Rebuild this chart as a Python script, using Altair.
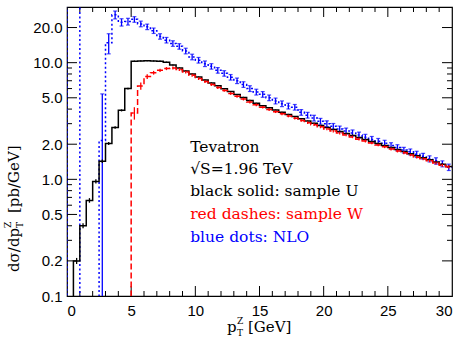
import altair as alt
import pandas as pd

OFF = 0.001   # empty / negative bin: below the axis
BIG = 1000.0  # bin far above the axis

bin_lo = [i * 0.5 for i in range(60)]

black = [OFF, 0.20, 0.40, 0.66, 0.96, 1.43, 2.03, 2.78, 3.9, 6.0,
         10.3, 10.35, 10.4, 10.35, 10.3, 10.1, 9.55, 9.0, 8.5, 8.0,
         7.53, 7.11, 6.71, 6.34, 5.98, 5.65, 5.33, 5.04, 4.75, 4.49,
         4.28, 4.10, 3.93, 3.76, 3.60, 3.45, 3.30, 3.16, 3.03, 2.90,
         2.78, 2.67, 2.57, 2.47, 2.38, 2.28, 2.19, 2.11, 2.03, 1.95,
         1.87, 1.80, 1.73, 1.66, 1.59, 1.53, 1.47, 1.41, 1.35, 1.29]
black_err = [0, 0.012, 0.02, 0.03, 0.04, 0.05, 0.06, 0.07, 0.08, 0.1,
             0.12, 0.12, 0.12, 0.12, 0.12, 0.11, 0.1, 0.1, 0.09, 0.09,
             0.08, 0.08, 0.07, 0.07, 0.07, 0.06, 0.06, 0.06, 0.05, 0.05,
             0.05, 0.05, 0.04, 0.04, 0.04, 0.04, 0.04, 0.03, 0.03, 0.03,
             0.03, 0.03, 0.03, 0.03, 0.03, 0.03, 0.02, 0.02, 0.02, 0.02,
             0.02, 0.02, 0.02, 0.02, 0.02, 0.02, 0.02, 0.02, 0.02, 0.02]

red = [OFF, OFF, OFF, OFF, OFF, OFF, OFF, OFF, OFF, OFF,
       3.7, 6.3, 7.6, 8.2, 8.6, 8.9, 9.0, 8.75, 8.3, 7.8,
       7.3, 6.88, 6.5, 6.12, 5.78, 5.45, 5.15, 4.87, 4.6, 4.35,
       4.15, 3.97, 3.8, 3.64, 3.49, 3.34, 3.2, 3.06, 2.94, 2.82,
       2.7, 2.59, 2.49, 2.4, 2.31, 2.21, 2.13, 2.05, 1.97, 1.9,
       1.82, 1.75, 1.69, 1.62, 1.55, 1.5, 1.44, 1.38, 1.32, 1.28]
red_err = [0, 0, 0, 0, 0, 0, 0, 0, 0, 0,
           0.45, 0.45, 0.35, 0.3, 0.28, 0.27, 0.26, 0.25, 0.24, 0.22,
           0.2, 0.19, 0.18, 0.17, 0.16, 0.15, 0.14, 0.13, 0.13, 0.12,
           0.11, 0.11, 0.1, 0.1, 0.09, 0.09, 0.09, 0.08, 0.08, 0.08,
           0.07, 0.07, 0.07, 0.06, 0.06, 0.06, 0.06, 0.05, 0.05, 0.05,
           0.05, 0.05, 0.05, 0.04, 0.04, 0.04, 0.04, 0.04, 0.04, 0.04]

blue = [BIG, BIG, OFF, OFF, OFF, 2.15, 14.8, 25.7, 22.2, 22.5,
        23.5, 21.5, 20.3, 18.8, 16.8, 15.6, 14.6, 13.8, 12.6, 11.2,
        10.5, 9.8, 9.3, 8.6, 8.1, 7.5, 7.0, 6.5, 6.0, 5.6,
        5.35, 5.0, 4.7, 4.45, 4.25, 4.15, 3.75, 3.55, 3.35, 3.15,
        3.0, 2.85, 2.7, 2.6, 2.5, 2.4, 2.3, 2.2, 2.12, 2.04,
        1.95, 1.87, 1.78, 1.72, 1.64, 1.58, 1.5, 1.44, 1.36, 1.27]
blue_err = [0, 0, 0, 0, 0, 3.25, 2.9, 2.0, 1.6, 1.5,
            1.3, 1.2, 1.1, 1.0, 0.9, 0.85, 0.8, 0.75, 0.7, 0.62,
            0.58, 0.54, 0.5, 0.47, 0.44, 0.41, 0.38, 0.36, 0.34, 0.32,
            0.3, 0.28, 0.27, 0.25, 0.24, 0.23, 0.21, 0.2, 0.19, 0.18,
            0.17, 0.16, 0.16, 0.15, 0.15, 0.14, 0.13, 0.13, 0.12, 0.12,
            0.11, 0.11, 0.1, 0.1, 0.1, 0.09, 0.09, 0.09, 0.08, 0.08]

x_labels = [0, 5, 10, 15, 20, 25, 30]
x_major = [5, 10, 15, 20, 25]
x_minor = [1, 2, 3, 4, 6, 7, 8, 9, 11, 12, 13, 14, 16, 17, 18, 19,
           21, 22, 23, 24, 26, 27, 28, 29]
y_labels = [0.1, 0.2, 0.5, 1, 2, 5, 10, 20]
y_major = [0.2, 0.5, 1, 2, 5, 10, 20]
y_minor = [0.3, 0.4, 0.6, 0.7, 0.8, 0.9, 3, 4, 6, 7, 8, 9]

notes = ["Tevatron", "\u221aS=1.96 TeV", "black solid: sample U",
         "red dashes: sample W", "blue dots: NLO"]
note_colors = ["black", "black", "black", "#ff0000", "#0000ff"]
note_y = [1.73, 1.12, 0.72, 0.46, 0.29]
note_x = 9.6

W, H = 385, 289
XS = alt.Scale(domain=[0, 30], nice=False, zero=False)
YS = alt.Scale(type="log", domain=[0.1, 30], nice=False)
AX = alt.Axis(values=x_labels, format="d", ticks=False, domain=False, grid=False,
              labelPadding=7, labelFontSize=15, labelFont="Liberation Sans",
              labelColor="black", title=None)
AY = alt.Axis(values=y_labels, format=".1f", ticks=False, domain=False, grid=False,
              labelPadding=5, labelFontSize=15, labelFont="Liberation Sans",
              labelColor="black", title=None)


def X(f):
    return alt.X(f, scale=XS, axis=AX, title=None)


def Y(f):
    return alt.Y(f, scale=YS, axis=AY, title=None)


def step_df(vals):
    rows = [{"x": bin_lo[0], "y": OFF, "o": 0}]
    for i, v in enumerate(vals):
        rows.append({"x": bin_lo[i], "y": v, "o": i + 1})
    rows.append({"x": 30.0, "y": vals[-1], "o": len(vals) + 1})
    return pd.DataFrame(rows)


def err_df(vals, errs):
    rows = []
    for i, (v, e) in enumerate(zip(vals, errs)):
        if e > 0:
            rows.append({"x": bin_lo[i] + 0.25, "lo": max(v - e, OFF), "hi": v + e})
    return pd.DataFrame(rows)


def step_line(vals, color, dash=None):
    kw = dict(interpolate="step-after", color=color, strokeWidth=1.5, clip=True)
    if dash:
        kw["strokeDash"] = dash
    return alt.Chart(step_df(vals)).mark_line(**kw).encode(
        x=X("x:Q"), y=Y("y:Q"), order="o:Q")


def err_bars(vals, errs, color, cap):
    d = err_df(vals, errs)
    base = alt.Chart(d)
    layers = [base.mark_rule(color=color, strokeWidth=1.3, clip=True).encode(
        x=X("x:Q"), y=Y("lo:Q"), y2="hi:Q")]
    if cap:
        for f in ["lo", "hi"]:
            layers.append(base.mark_tick(orient="horizontal", size=cap, thickness=1.2,
                                         color=color, clip=True).encode(
                x=X("x:Q"), y=Y(f + ":Q")))
    return layers


def xticks(vals, size):
    d = pd.DataFrame({"v": vals})
    bot = alt.Chart(d).mark_rule(color="black", strokeWidth=1).encode(
        x=X("v:Q"), y=alt.value(H), y2=alt.value(H - size))
    top = alt.Chart(d).mark_rule(color="black", strokeWidth=1).encode(
        x=X("v:Q"), y=alt.value(0), y2=alt.value(size))
    return [bot, top]


def yticks(vals, size):
    d = pd.DataFrame({"v": vals})
    left = alt.Chart(d).mark_rule(color="black", strokeWidth=1).encode(
        y=Y("v:Q"), x=alt.value(0), x2=alt.value(size))
    right = alt.Chart(d).mark_rule(color="black", strokeWidth=1).encode(
        y=Y("v:Q"), x=alt.value(W), x2=alt.value(W - size))
    return [left, right]


notes_df = pd.DataFrame({"t": notes, "c": note_colors, "y": note_y, "x": [note_x] * len(notes)})
notes_layer = alt.Chart(notes_df).mark_text(align="left", baseline="alphabetic",
                                            font="DejaVu Serif", fontSize=15.5).encode(
    x=X("x:Q"), y=Y("y:Q"), text="t:N", color=alt.Color("c:N", scale=None))


def label(txt, x, y, size=15, angle=0, align="left"):
    kw = dict(align=align, baseline="alphabetic", font="DejaVu Serif",
              fontSize=size, color="black")
    if angle:
        kw["angle"] = angle
    return alt.Chart(pd.DataFrame({"t": [txt]})).mark_text(**kw).encode(
        x=alt.value(x), y=alt.value(y), text="t:N")


titles = [
    label("p", 160, 325),
    label("Z", 170, 317, size=9),
    label("T", 170, 329, size=9),
    label("[GeV]", 181, 325),
    label("d\u03c3/dp", -48, 265, angle=270),
    label("Z", -56, 221, size=9, angle=270),
    label("T", -44, 221, size=9, angle=270),
    label("[pb/GeV]", -48, 206, angle=270),
]

layers = []
layers += xticks(x_major, 10) + xticks(x_minor, 5) + yticks(y_major, 10) + yticks(y_minor, 5)
layers += [step_line(blue, "#0000ff", [2, 2.5])]
layers += err_bars(blue, blue_err, "#0000ff", 4)
layers += [step_line(black, "black")]
layers += err_bars(black, black_err, "black", 0)
layers += [step_line(red, "#ff0000", [6, 3])]
layers += err_bars(red, red_err, "#ff0000", 0)
layers += [notes_layer] + titles

chart = alt.layer(*layers).properties(
    width=W, height=H,
    autosize=alt.AutoSizeParams(type="none"),
    padding={"left": 67, "top": 7, "right": 10, "bottom": 42},
    background="white",
).configure_view(stroke="black", strokeWidth=1.2)

chart.save("out.html", embed_options={"renderer": "svg", "actions": False})
